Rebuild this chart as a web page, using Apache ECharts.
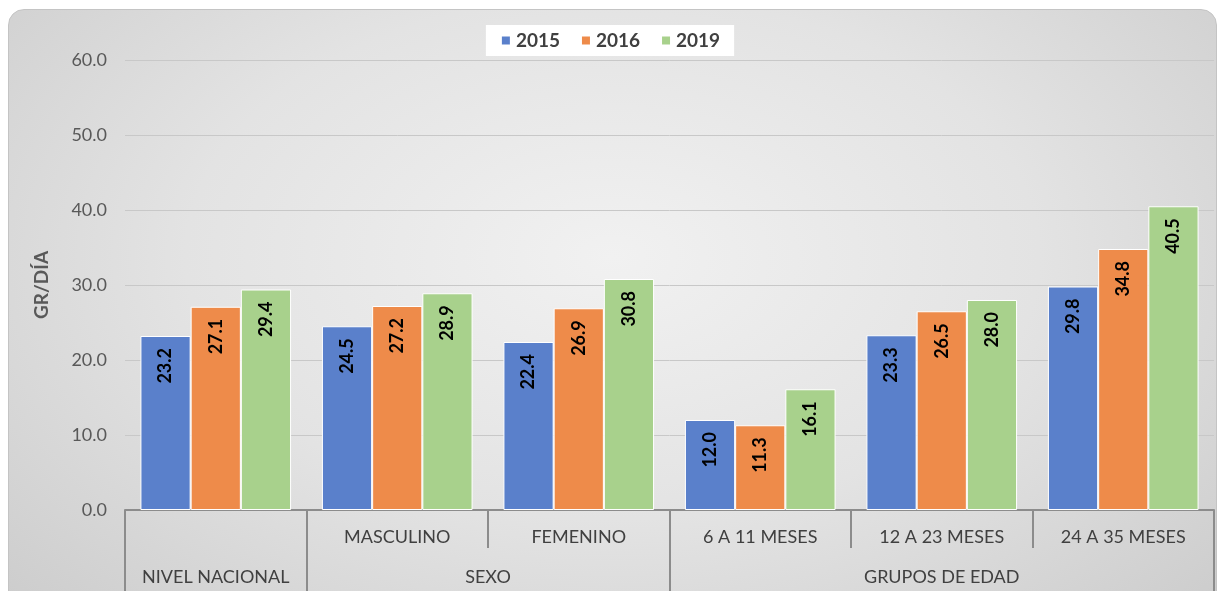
<!DOCTYPE html>
<html>
<head>
<meta charset="utf-8">
<script src="https://cdn.jsdelivr.net/npm/echarts@6/dist/echarts.min.js"></script>
<style>
  html, body { margin: 0; padding: 0; background: #ffffff; width: 1220px; height: 591px; overflow: hidden; }
  #bg { position: absolute; left: 8px; top: 9px; width: 1209px; height: 620px; border-radius: 16px;
        background: radial-gradient(ellipse at 50% 40%, #f1f1f1 0%, #e3e3e3 50%, #cbcbcb 100%);
        border: 1px solid #c4c4c4; box-sizing: border-box; }
  #chart { position: absolute; left: 0; top: 0; width: 1220px; height: 591px; }
</style>
</head>
<body>
<div id="bg"></div>
<div id="chart"></div>
<script>
const categories = ['', 'MASCULINO', 'FEMENINO', '6 A 11 MESES', '12 A 23 MESES', '24 A 35 MESES'];
const groupNames = ['NIVEL NACIONAL', 'SEXO', 'GRUPOS DE EDAD'];
const groupSizes = [1, 2, 3];
const seriesNames = ['2015', '2016', '2019'];
const values2015 = [23.2, 24.5, 22.4, 12.0, 23.3, 29.8];
const values2016 = [27.1, 27.2, 26.9, 11.3, 26.5, 34.8];
const values2019 = [29.4, 28.9, 30.8, 16.1, 28.0, 40.5];
const yAxisName = 'GR/DÍA';

// group boundaries and centres on a 0..N value scale spanning the categories
const groupEdges = [0];
const groupCenters = [];
groupSizes.forEach(function (n) {
  const start = groupEdges[groupEdges.length - 1];
  groupCenters.push(start + n / 2);
  groupEdges.push(start + n);
});

const colors = ['#5a80cb', '#ee8b4a', '#a8d18c'];
const font = 'Lato, "Liberation Sans", sans-serif';

const chart = echarts.init(document.getElementById('chart'), null, { renderer: 'canvas' });

const labelOpt = {
  show: true,
  position: 'insideTop',
  rotate: 90,
  align: 'right',
  verticalAlign: 'middle',
  distance: 12,
  color: '#000000',
  fontWeight: 'bold',
  fontSize: 18,
  fontFamily: font,
  formatter: function (p) { return p.value.toFixed(1); }
};

function makeSeries(name, data, idx) {
  return {
    name: name,
    type: 'bar',
    data: data,
    xAxisIndex: 0,
    barGap: '0%',
    barCategoryGap: '17%',
    itemStyle: { color: colors[idx], borderColor: '#ffffff', borderWidth: 1 },
    label: labelOpt
  };
}

chart.setOption({
  animation: false,
  backgroundColor: 'transparent',
  color: colors,
  textStyle: { fontFamily: font },
  legend: {
    top: 25,
    left: 'center',
    data: seriesNames,
    itemWidth: 10,
    itemHeight: 10,
    itemGap: 20,
    icon: 'rect',
    backgroundColor: '#ffffff',
    padding: [6, 14, 6, 14],
    textStyle: { fontSize: 19, fontWeight: 'bold', color: '#404040', fontFamily: font }
  },
  grid: { left: 125, right: 6, top: 60, bottom: 81, containLabel: false },
  xAxis: [
    {
      type: 'category',
      data: categories,
      position: 'bottom',
      axisLine: { show: true, lineStyle: { color: '#8c8c8c', width: 2 } },
      axisTick: { show: true, interval: 0, length: 38, lineStyle: { color: '#8c8c8c', width: 2 } },
      axisLabel: { interval: 0, margin: 18, fontSize: 18, color: '#404040', fontFamily: font },
      splitLine: { show: false }
    },
    {
      type: 'value',
      min: 0,
      max: categories.length,
      position: 'bottom',
      axisLine: { show: false },
      axisTick: { show: true, customValues: groupEdges, length: 82, lineStyle: { color: '#8c8c8c', width: 2 } },
      axisLabel: {
        customValues: groupCenters,
        margin: 58,
        fontSize: 18,
        color: '#404040',
        fontFamily: font,
        formatter: function (v) {
          const i = groupCenters.indexOf(v);
          return i >= 0 ? groupNames[i] : '';
        }
      },
      splitLine: { show: false }
    }
  ],
  yAxis: {
    type: 'value',
    min: 0,
    max: 60,
    interval: 10,
    name: yAxisName,
    nameLocation: 'middle',
    nameRotate: 90,
    nameGap: 74,
    nameTextStyle: { fontSize: 19, fontWeight: 'bold', color: '#595959', fontFamily: font },
    axisLine: { show: false },
    axisTick: { show: false },
    axisLabel: { margin: 18, fontSize: 18, color: '#595959', fontFamily: font,
      formatter: function (v) { return v.toFixed(1); } },
    splitLine: { lineStyle: { color: '#c8c8c8', width: 1 } }
  },
  series: [
    makeSeries(seriesNames[0], values2015, 0),
    makeSeries(seriesNames[1], values2016, 1),
    makeSeries(seriesNames[2], values2019, 2)
  ]
});
</script>
</body>
</html>
